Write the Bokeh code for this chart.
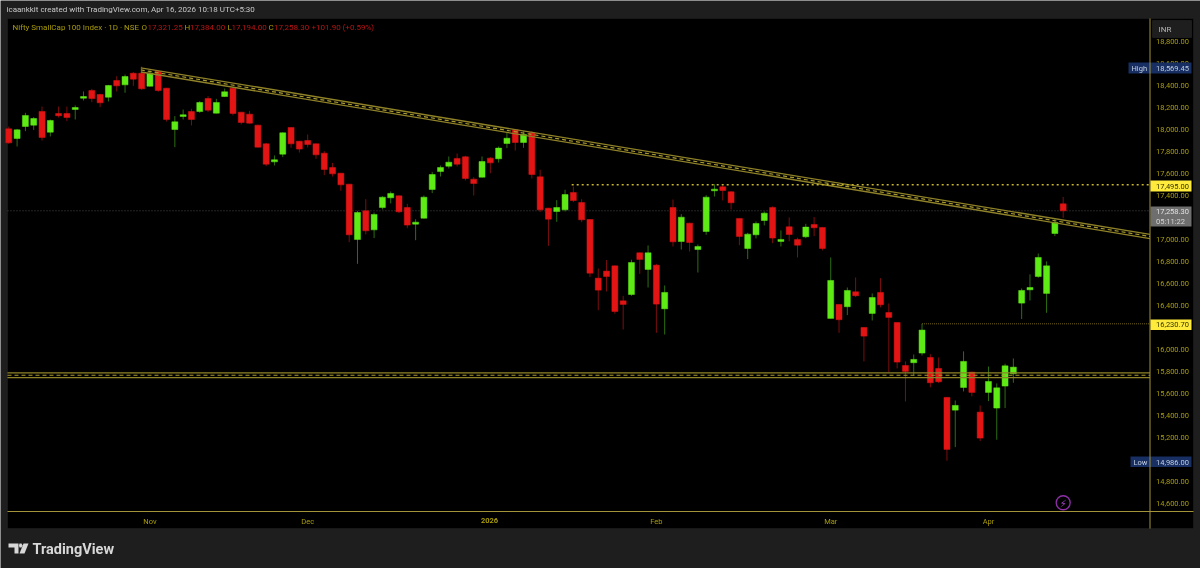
from bokeh.plotting import figure
from bokeh.embed import file_html
from bokeh.resources import INLINE
from bokeh.models import (Range1d, FixedTicker, NumeralTickFormatter, BoxAnnotation, Label,
                          ColumnDataSource, PolyAnnotation)

# open / high / low / close, one entry per session
opens = [18003,17916,18025,18037,18161,17973,18143,18143,18179,18282,18352,18315,18291,18443,18403,18509,
18509,18391,18525,18373,17997,18116,18161,18161,18279,18146,18297,18373,18155,18137,18037,17867,
17703,17773,18016,17891,17897,17867,17782,17652,17600,17500,16997,17258,17085,17288,17376,17394,
17288,17137,17191,17452,17615,17664,17734,17749,17546,17564,17737,17731,17870,17994,17879,17967,
17567,17282,17252,17267,17425,17334,17179,16646,16710,16758,16440,16497,16876,16725,16764,16367,
17288,16979,17146,16906,17070,17440,17476,17431,17189,16916,17040,17170,17289,16980,17113,16998,
17022,17134,17107,16280,16407,16386,16522,16198,16325,16516,16334,16243,15852,15877,15965,15925,
15825,15562,15446,15652,15792,15428,15607,15465,15665,15777,16419,16540,16661,16507,17052,17321.25]
highs = [18025,18003,18149,18110,18206,18088,18206,18206,18216,18343,18367,18322,18403,18482,18497,18519,
18569.45,18534,18534,18376,18119,18179,18185,18255,18300,18276,18370,18376,18155,18167,18040,17876,
17761,17970,18016,17894,17952,17870,17800,17694,17603,17503,17258,17364,17243,17391,17434,17397,
17322,17182,17397,17612,17670,17752,17779,17758,17564,17752,17746,17843,17973,17997,17982,17982,
17631,17285,17355,17449,17479,17364,17182,16734,16810,16761,16485,16813,16879,16943,16776,16579,
17361,17228,17149,16952,17400,17500,17488,17434,17189,17058,17161,17252,17298,17080,17198,17013,
17140,17201,17107,16834,16407,16561,16652,16198,16507,16646,16416,16243,15889,15952,16230.7,15955,
15925,15562,15534,15980,15795,15489,15843,15689,15868,15916,16552,16680,16870,16798,17186,17384]
lows = [17867,17843,17982,17994,17897,17934,18106,18073,18088,18261,18246,18200,18252,18343,18331,18394,
18358,18388,18340,18070,17837,18088,18034,18149,18155,18143,18294,18125,18043,18052,17834,17664,
17670,17746,17831,17788,17834,17731,17582,17570,17440,16973,16776,17043,17010,17270,17325,17237,
17100,16991,17188,17419,17570,17643,17661,17534,17397,17561,17600,17697,17828,17806,17831,17552,
17246,16940,17158,17252,17337,17155,16655,16355,16525,16322,16179,16485,16685,16561,16149,16134,
16934,16906,16888,16697,17040,17388,17352,17270,16946,16819,17007,17125,16964,16934,16980,16834,
17010,17028,16898,16280,16149,16310,16474,15889,16261,16380,15792,15825,15525,15762,15943,15653,
15692,14986,15110,15616,15571,15165,15528,15177,15465,15695,16274,16443,16649,16331,17028,17194]
closes = [17876,17994,18125,18097,17925,18079,18122,18106,18197,18297,18279,18240,18397,18394,18479,18455,
18367,18509,18352,18088,18067,18131,18088,18243,18173,18243,18340,18143,18061,18055,17837,17682,
17722,17967,17867,17819,17861,17767,17634,17594,17494,17040,17243,17076,17225,17382,17416,17249,
17128,17155,17382,17588,17652,17700,17682,17552,17506,17706,17694,17828,17918,17879,17952,17588,
17267,17182,17288,17406,17352,17176,16691,16537,16661,16343,16407,16788,16816,16876,16410,16516,
16976,17200,16970,16934,17382,17455,17443,17331,17025,17046,17143,17237,17010,16998,17043,16946,
17110,17104,16916,16625,16268,16534,16486,16119,16470,16404,16289,15883,15798,15907,16174,15695,
15704,15089,15489,15889,15607,15192,15707,15649,15849,15837,16534,16561,16834,16758,17152,17258.3]

price_ticks = [14600,14800,15000,15200,15400,15600,15800,16000,16200,16400,16600,16800,17000,17200,17400,17600,17800,18000,18200,18400,18600,18800]
month_pos = [17,36,58,78,99,118]
month_names = ["Nov","Dec","","Feb","Mar","Apr"]

trend_x = [15.9, 137.46]
trend_upper = [18558, 17044]
trend_mid = [18539, 17025]
trend_lower = [18520, 17006]
band_x = [-0.157, 137.46]
band_upper = [15784, 15784]
band_mid = [15763, 15763]
band_lower = [15742, 15742]
res_x = [67.8, 137.46]
res_y = [17495, 17495]
sup_x = [110, 137.46]
sup_y = [16230.7, 16230.7]
last_x = [-0.157, 137.46]
last_y = [17258.3, 17258.3]

BG = "#1e1e1e"; GOLD = "#a3943a"; YT = "#a99c0a"
GREEN = "#5eea14"; RED = "#e21414"; GW = "#2e6e12"; RW = "#7c0e0e"
EDGE = "#8f8228"; DASH = "#a99a30"; TRED = "#b81414"

p = figure(width=1200, height=568, output_backend="svg", toolbar_location=None,
           x_range=Range1d(-1.0, 143.54), y_range=Range1d(14006.4, 19170),
           background_fill_color=BG, border_fill_color=BG, outline_line_color=None,
           min_border_left=0, min_border_right=0, min_border_top=0, min_border_bottom=0,
           x_axis_location="below", y_axis_location="right",
           styles={"position": "fixed", "left": "0px", "top": "0px"})
p.grid.visible = False

UNITS = dict(left_units="canvas", right_units="canvas", top_units="canvas", bottom_units="canvas")

p.add_layout(BoxAnnotation(left=7, right=1193, top=18, bottom=528, fill_color="black", fill_alpha=1,
                           line_color="#2e2e2e", line_width=1, level="underlay", **UNITS))

ya = p.yaxis[0]
ya.fixed_location = 137.46
ya.ticker = FixedTicker(ticks=price_ticks)
ya.formatter = NumeralTickFormatter(format="0,0.00")
ya.axis_line_color = None; ya.major_tick_line_color = None; ya.minor_tick_line_color = None
ya.major_tick_out = 0; ya.major_tick_in = 0
ya.major_label_text_color = YT; ya.major_label_text_font = "Roboto"; ya.major_label_text_font_size = "7.5px"
ya.major_label_standoff = 6

xa = p.xaxis[0]
xa.fixed_location = 14524.5
xa.ticker = FixedTicker(ticks=month_pos)
xa.major_label_overrides = dict(zip(month_pos, month_names))
xa.axis_line_color = None; xa.major_tick_line_color = None; xa.minor_tick_line_color = None
xa.major_tick_out = 0; xa.major_tick_in = 0
xa.major_label_text_color = YT; xa.major_label_text_font = "Roboto"; xa.major_label_text_font_size = "7.5px"
xa.major_label_standoff = 5

idx = list(range(len(opens)))
up = [c >= o for o, c in zip(opens, closes)]
src = ColumnDataSource(dict(
    x=idx, h=highs, l=lows,
    top=[max(o, c) for o, c in zip(opens, closes)],
    bot=[min(o, c) for o, c in zip(opens, closes)],
    body=[GREEN if u else RED for u in up],
    wick=[GW if u else RW for u in up]))

p.line(last_x, last_y, line_color="#4a4a4a", line_width=1, line_dash="1 2")
p.segment("x", "h", "x", "l", source=src, line_color="wick", line_width=1)
p.vbar("x", 0.72, "bot", "top", source=src, fill_color="body", line_color="body", line_width=0.5)

for ys in (trend_upper, trend_lower):
    p.line(trend_x, ys, line_color=EDGE, line_width=1.3)
p.line(trend_x, trend_mid, line_color=DASH, line_width=1.2, line_dash="4 3")
for ys in (band_upper, band_lower):
    p.line(band_x, ys, line_color=EDGE, line_width=1.3)
p.line(band_x, band_mid, line_color=DASH, line_width=1.2, line_dash="4 3")
p.line(res_x, res_y, line_color="#c8b62e", line_width=1.5, line_dash="2 3")
p.line(sup_x, sup_y, line_color="#75681a", line_width=1, line_dash="1 1")

def box(l, r, t, b, color, line=None, level="annotation"):
    p.add_layout(BoxAnnotation(left=l, right=r, top=t, bottom=b, fill_color=color, fill_alpha=1,
                               line_color=line, level=level, **UNITS))

def txt(x, y, s, color, size="8px", font="Roboto", style="normal", align="left", base="middle"):
    p.add_layout(Label(x=x, y=y, x_units="canvas", y_units="canvas", text=s, text_color=color,
                       text_font_size=size, text_font=font, text_font_style=style, text_align=align,
                       text_baseline=base, level="annotation"))

box(7, 1193, 510.5, 511.5, GOLD)
box(1149, 1150, 18, 528, GOLD)

box(1152, 1191, 20, 37, BG, line="#3a3a3a")
txt(1158, 29, "INR", "#b4b4b4")
box(1128, 1191, 62, 73, "#172f62")
box(1149, 1150, 62, 73, GOLD)
txt(1131, 67.5, "High", "#c2cde0", "7.5px"); txt(1155.5, 67.5, "18,569.45", "#c2cde0", "7.5px")
box(1150, 1191, 180, 191, "#ffeb3b")
txt(1155.5, 185.5, "17,495.00", "#333300", "7.5px")
box(1150, 1191, 206, 226, "#6e6e6e")
txt(1155.5, 211, "17,258.30", "#e0e0e0", "7.5px"); txt(1155.5, 220.5, "05:11:22", "#d4d4d4", "7.5px")
box(1150, 1191, 319, 329.5, "#ffeb3b")
txt(1155.5, 324, "16,230.70", "#333300", "7.5px")
box(1130, 1191, 456, 466.5, "#172f62")
box(1149, 1150, 456, 466.5, GOLD)
txt(1133, 461.5, "Low", "#c2cde0", "7.5px"); txt(1155.5, 461.5, "14,986.00", "#c2cde0", "7.5px")

# header texts
txt(6, 9, "icaankkit created with TradingView.com, Apr 16, 2026 10:18 UTC+5:30", "#c8c8c8", "8px")
txt(12, 27, "Nifty SmallCap 100 Index · 1D · NSE", YT)
for x, s, c in [(141, "O", YT), (147, "17,321.25", TRED), (184, "H", YT), (189.5, "17,384.00", TRED),
                (227, "L", YT), (231, "17,194.00", TRED), (268, "C", YT), (273.5, "17,258.30", TRED),
                (311, "+101.90 (+0.59%)", TRED)]:
    txt(x, 27, s, c)
txt(489, 520, "2026", YT, "7.5px", style="bold", align="center")

# event marker
p.scatter([127], [14604], size=14, marker="circle", fill_color=None, line_color="#8e2fa8", line_width=1.3)
txt(1062.7, 502.5, "⚡", "#a040c0", size="10px", font="DejaVu Sans", align="center")

# footer logo and wordmark
LOGO = "#d8d8d8"
for xs, ys in [([8, 18, 18, 14, 14, 8], [543, 543, 553, 553, 547, 547]),
               ([23, 28, 24, 19], [543, 543, 553, 553]),
               ([19, 21, 22, 21, 19, 18.5], [543, 543, 545, 547, 547, 545])]:
    p.add_layout(PolyAnnotation(xs=xs, ys=ys, xs_units="canvas", ys_units="canvas", fill_color=LOGO, fill_alpha=1,
                                line_color=None, level="annotation"))
txt(32, 548.5, "TradingView", LOGO, size="14.5px", font="Roboto", style="bold")

open("out.html", "w").write(file_html(p, INLINE))
